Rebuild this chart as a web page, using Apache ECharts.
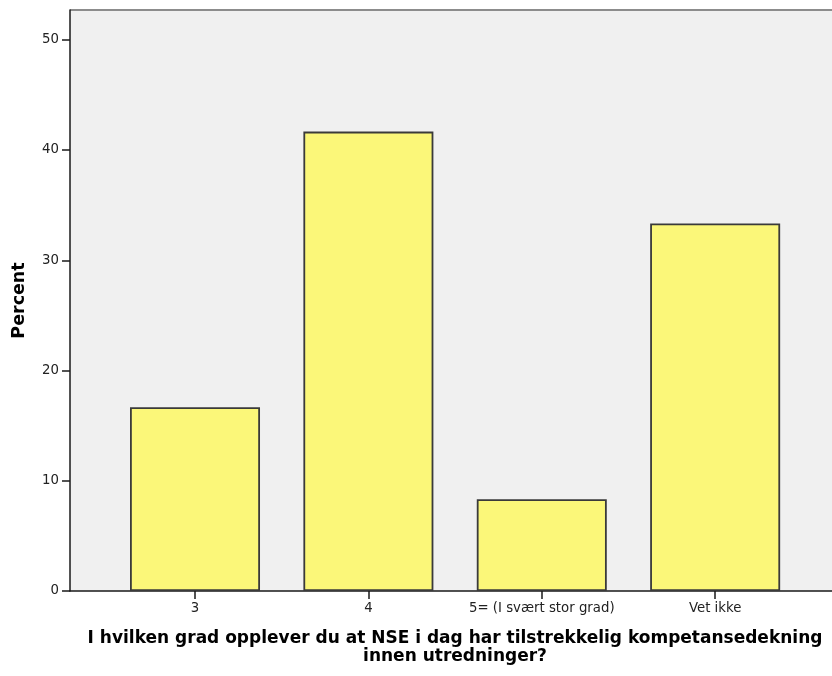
<!DOCTYPE html>
<html lang="no">
<head>
    <meta charset="UTF-8">
    <title>Kompetansedekning</title>
    <script src="https://cdn.jsdelivr.net/npm/echarts@6/dist/echarts.min.js"></script>
    <style>
        html, body { margin: 0; padding: 0; background: #fff; }
    </style>
</head>
<body>
    <div id="main" style="width: 832px;height:676px;"></div>

    <script type="text/javascript">
        // data (12 answers -> 2, 5, 1, 4)
        const categories = ['3', '4', '5= (I svært stor grad)', 'Vet ikke'];
        const percent = [16.67, 41.67, 8.33, 33.33];
        const yTicks = [0, 10, 20, 30, 40, 50];
        const xTicks = [0, 1, 2, 3];

        var myChart = echarts.init(document.getElementById('main'));

        const option = {
            animation: false,
            textStyle: { fontFamily: 'DejaVu Sans, sans-serif' },
            grid: {
                left: 70,
                top: 10,
                width: 770,
                height: 581,
                outerBoundsMode: 'none',
                containLabel: false,
                show: true,
                backgroundColor: '#f0f0f0',
                borderWidth: 0
            },
            xAxis: {
                type: 'value',
                min: -0.721,
                max: 3.72,
                splitLine: { show: false },
                axisLine: { show: true, onZero: false, lineStyle: { color: '#1a1a1a', width: 1.5 } },
                axisTick: { show: true, length: 8, customValues: xTicks, lineStyle: { color: '#1a1a1a', width: 1.5 } },
                axisLabel: {
                    customValues: xTicks,
                    formatter: (v) => categories[Math.round(v)],
                    color: '#222',
                    fontSize: 13.3,
                    margin: 11
                },
                name: 'I hvilken grad opplever du at NSE i dag har tilstrekkelig kompetansedekning\ninnen utredninger?',
                nameLocation: 'middle',
                nameGap: 39,
                nameTextStyle: { fontSize: 17, fontWeight: 'bold', color: '#000', lineHeight: 18 }
            },
            yAxis: {
                type: 'value',
                min: 0,
                max: 52.7,
                splitLine: { show: false },
                axisLine: { show: true, onZero: false, lineStyle: { color: '#1a1a1a', width: 1.5 } },
                axisTick: { show: true, length: 8, customValues: yTicks, lineStyle: { color: '#1a1a1a', width: 1.5 } },
                axisLabel: { customValues: yTicks, color: '#222', fontSize: 13.3, margin: 11 },
                name: 'Percent',
                nameLocation: 'middle',
                nameGap: 42,
                nameTextStyle: { fontSize: 17.5, fontWeight: 'bold', color: '#000' }
            },
            graphic: [
                {
                    type: 'line',
                    shape: { x1: 70, y1: 10, x2: 832, y2: 10 },
                    style: { stroke: '#8c8c8c', lineWidth: 2 }
                }
            ],
            series: [
                {
                    type: 'bar',
                    barWidth: 130,
                    itemStyle: { color: '#fbf779', borderColor: '#3a3a3a', borderWidth: 1.8 },
                    data: percent.map((v, i) => [i, v])
                }
            ]
        };

        myChart.setOption(option);
    </script>
</body>
</html>
